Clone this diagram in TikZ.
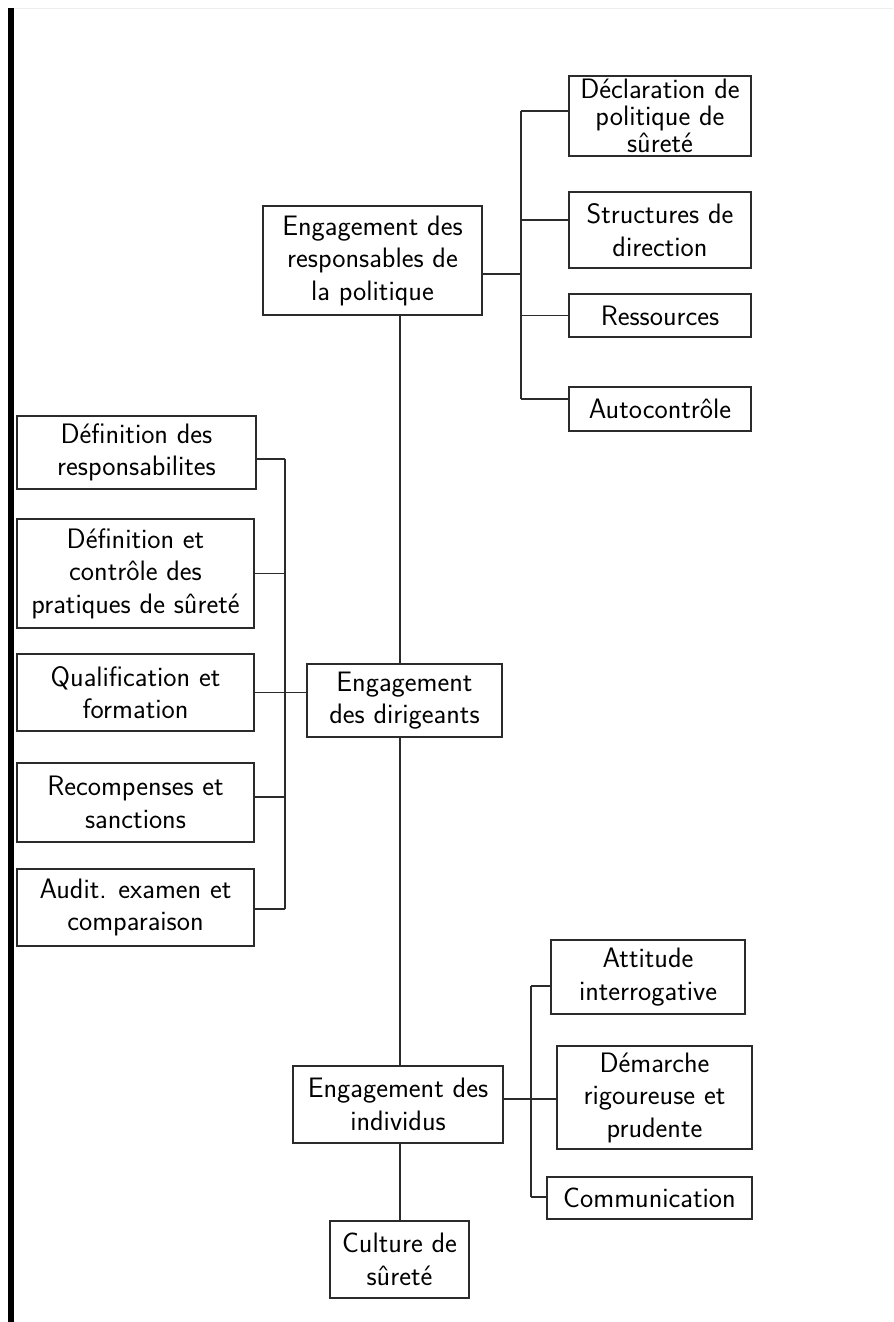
\documentclass[tikz,border=0pt]{standalone}
\usetikzlibrary{positioning, calc}
\definecolor{cline}{HTML}{2B2B2B}
\tikzset{
  every picture/.style={font=\sffamily\fontsize{16}{18.5}\selectfont},
  bloc/.style 2 args={draw=cline, line width=1.1pt, align=center, inner xsep=1pt, inner ysep=0pt,
                      minimum width=#1, minimum height=#2},
  lien/.style={draw=cline, line width=1pt},
}

\begin{document}
\begin{tikzpicture}[x=0.02cm, y=-0.02cm]
  \useasboundingbox (0,0) rectangle (893,1322);
  % page edge
  \draw[black!7, line width=0.5pt] (14,8) -- (893,8);
  \fill[black] (8,8) rectangle (14,1322);
  % main column
  \node[bloc={4.38cm}{2.18cm}] (resp) at (372.5,260.5) {Engagement des\\responsables de\\la politique};
  \node[bloc={3.9cm}{1.46cm}] (dirig) at (404.5,700.5) {Engagement\\des dirigeants};
  \node[bloc={4.2cm}{1.54cm}] (indiv) at (398,1104.5) {Engagement des\\individus};
  \node[bloc={2.78cm}{1.54cm}] (culture) at (399.5,1259.5) {Culture de\\sûreté};
  % policy makers
  \node[bloc={3.64cm}{1.6cm}, font=\sffamily\fontsize{16}{15.5}\selectfont] (decl) at (660,116) {Déclaration de\\politique de\\sûreté};
  \node[bloc={3.64cm}{1.52cm}] (struct) at (660,230) {Structures de\\direction};
  \node[bloc={3.64cm}{0.86cm}] (ress) at (660,315.5) {Ressources};
  \node[bloc={3.64cm}{0.88cm}] (autoc) at (660,409) {Autocontrôle};
  % managers
  \node[bloc={4.78cm}{1.46cm}] (defresp) at (136.5,452.5) {Définition des\\responsabilites};
  \node[bloc={4.74cm}{2.18cm}] (defctrl) at (135.5,573.5) {Définition et\\contrôle des\\pratiques de sûreté};
  \node[bloc={4.74cm}{1.54cm}] (qualif) at (135.5,692.5) {Qualification et\\formation};
  \node[bloc={4.74cm}{1.58cm}] (recomp) at (135.5,802.5) {Recompenses et\\sanctions};
  \node[bloc={4.74cm}{1.54cm}] (audit) at (135.5,907.5) {Audit. examen et\\comparaison};
  % individuals
  \node[bloc={3.88cm}{1.48cm}] (attit) at (648,977) {Attitude\\interrogative};
  \node[bloc={3.9cm}{2.06cm}] (demar) at (654.5,1097.5) {Démarche\\rigoureuse et\\prudente};
  \node[bloc={4.1cm}{0.84cm}] (commu) at (649.5,1198) {Communication};

  % trunk
  \coordinate (axe) at (400,0);
  \draw[lien] (resp.south -| axe) -- (dirig.north -| axe);
  \draw[lien] (dirig.south -| axe) -- (indiv.north -| axe);
  \draw[lien] (indiv.south -| axe) -- (culture.north -| axe);
  % top bus
  \coordinate (bh1) at (521,111);
  \coordinate (bh2) at (521,399);
  \draw[lien] (bh1) -- (bh2);
  \draw[lien] ([yshift=-2.7mm]resp.east) -- ([yshift=-2.7mm]resp.east -| bh1);
  \draw[lien] (bh1) -- (bh1 -| decl.west);
  \draw[lien] ([yshift=2mm]struct.west -| bh1) -- ([yshift=2mm]struct.west);
  \draw[lien] (ress.west -| bh1) -- (ress.west);
  \draw[lien] (bh2) -- (bh2 -| autoc.west);
  % left bus
  \coordinate (bg1) at (285,459);
  \coordinate (bg2) at (285,909);
  \draw[lien] (bg1) -- (bg2);
  \draw[lien] (bg1 -| defresp.east) -- (bg1);
  \draw[lien] (defctrl.east) -- (defctrl.east -| bg1);
  \draw[lien] (qualif.east) -- (qualif.east -| dirig.west);
  \draw[lien] ([yshift=1.1mm]recomp.east) -- ([yshift=1.1mm]recomp.east -| bg1);
  \draw[lien] (bg2 -| audit.east) -- (bg2);
  % bottom bus
  \coordinate (bb1) at (531,986);
  \coordinate (bb2) at (531,1197);
  \draw[lien] (bb1) -- (bb2);
  \draw[lien] (bb1) -- (bb1 -| attit.west);
  \draw[lien] ([yshift=1.1mm]indiv.east) -- ([yshift=1.1mm]indiv.east -| demar.west);
  \draw[lien] (bb2) -- (bb2 -| commu.west);
\end{tikzpicture}
\end{document}
